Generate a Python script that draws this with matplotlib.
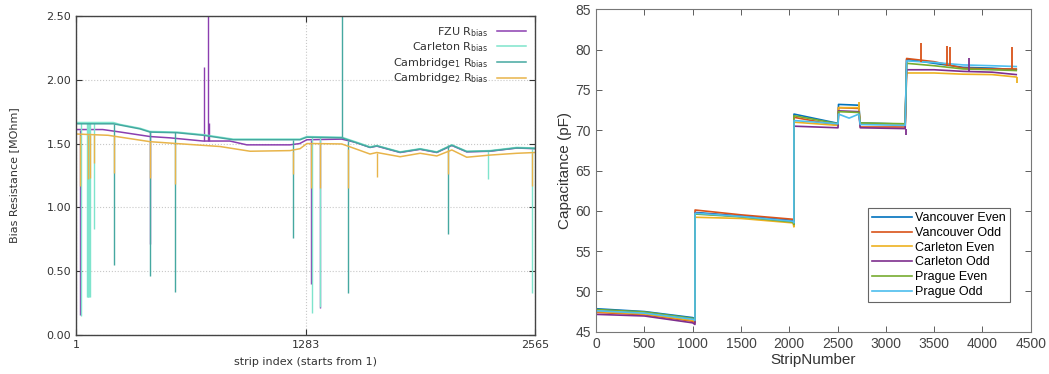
import numpy as np
import matplotlib
matplotlib.use('Agg')
import matplotlib.pyplot as plt

# ---------------- left panel: bias resistance (gnuplot style) ----------------
STRIP_TICKS = [1, 1283, 2565]

FZU_X = [1, 150, 250, 415, 525, 710, 860, 955, 1195, 1250, 1290, 1485, 1560,
         1643, 1681, 1811, 1923, 2016, 2100, 2183, 2314, 2463, 2565]
FZU_Y = [1.61, 1.61, 1.59, 1.555, 1.545, 1.52, 1.52, 1.49, 1.49, 1.50, 1.53,
         1.535, 1.51, 1.47, 1.48, 1.43, 1.455, 1.43, 1.485, 1.435, 1.44, 1.465, 1.46]

CARL_X = [1, 209, 247, 358, 414, 565, 711, 878, 973, 1252, 1290, 1485, 1560,
          1643, 1681, 1811, 1923, 2016, 2100, 2183, 2314, 2463, 2565]
CARL_Y = [1.665, 1.665, 1.65, 1.62, 1.595, 1.59, 1.57, 1.535, 1.535, 1.535, 1.555,
          1.55, 1.515, 1.475, 1.485, 1.435, 1.46, 1.435, 1.49, 1.44, 1.445, 1.47, 1.465]
CAM1_Y = [1.655, 1.655, 1.645, 1.615, 1.59, 1.585, 1.565, 1.53, 1.53, 1.53, 1.55,
          1.545, 1.51, 1.47, 1.482, 1.432, 1.457, 1.432, 1.487, 1.437, 1.442, 1.466, 1.462]

CAM2_X = [1, 180, 250, 414, 565, 805, 973, 1196, 1252, 1290, 1330, 1485, 1560,
          1643, 1681, 1811, 1923, 2016, 2100, 2183, 2314, 2463, 2565]
CAM2_Y = [1.575, 1.565, 1.55, 1.515, 1.50, 1.477, 1.44, 1.445, 1.46, 1.50, 1.50,
          1.497, 1.46, 1.418, 1.43, 1.397, 1.424, 1.403, 1.45, 1.393, 1.41, 1.424, 1.43]

# spikes: strip, low end, high end
FZU_SPK_X = [24, 413, 715, 738, 741, 1316, 1361]
FZU_SPK_LO = [0.16, 0.71, 1.52, 1.52, 1.52, 0.40, 0.21]
FZU_SPK_HI = [1.61, 1.59, 2.10, 2.60, 1.66, 1.53, 1.53]

CARL_SPK_X = [30, 62, 66, 70, 74, 77, 101, 1318, 1361, 2301, 2548]
CARL_SPK_LO = [0.15, 0.30, 0.30, 0.30, 0.30, 0.30, 0.83, 0.17, 0.22, 1.22, 0.33]
CARL_SPK_HI = [1.665, 1.665, 1.665, 1.665, 1.665, 1.665, 1.665, 1.555, 1.555, 1.445, 1.465]

CAM1_SPK_X = [215, 413, 555, 1215, 1484, 1522, 2079]
CAM1_SPK_LO = [0.55, 0.46, 0.34, 0.76, 1.55, 0.33, 0.79]
CAM1_SPK_HI = [1.65, 1.595, 1.59, 1.53, 2.60, 1.52, 1.49]

CAM2_SPK_X = [24, 70, 77, 101, 215, 413, 555, 1215, 1316, 1361, 1522, 1684, 2079, 2548]
CAM2_SPK_LO = [1.17, 1.22, 1.23, 1.35, 1.27, 1.23, 1.18, 1.26, 1.15, 1.15, 1.15, 1.24, 1.26, 1.17]
CAM2_SPK_HI = [1.57, 1.57, 1.57, 1.57, 1.56, 1.515, 1.50, 1.445, 1.50, 1.50, 1.46, 1.43, 1.45, 1.43]

# ---------------- right panel: capacitance (MATLAB style) ----------------
CAP_X = [0, 500, 1000, 1024, 1025, 1500, 2040, 2048, 2049, 2505, 2510, 2620, 2720,
         2735, 3200, 3215, 3500, 3800, 4100, 4350]
VAN_EVEN = [47.85, 47.5, 46.75, 46.6, 59.8, 59.35, 58.8, 58.6, 72.0, 70.85, 73.2, 73.15, 73.1,
            70.9, 70.75, 78.8, 78.3, 77.8, 77.7, 77.5]
VAN_ODD = [47.4, 47.1, 46.3, 46.1, 60.1, 59.5, 58.95, 58.9, 71.6, 70.6, 72.8, 72.75, 72.7,
           70.4, 70.4, 78.9, 78.5, 77.7, 77.6, 77.6]
CARL_EVEN = [47.5, 47.2, 46.4, 46.3, 59.2, 59.05, 58.5, 58.0, 71.0, 70.6, 72.8, 72.8, 72.8,
             70.8, 70.7, 77.1, 77.1, 76.95, 76.9, 76.6]
CARL_ODD = [47.15, 46.95, 46.1, 45.9, 59.7, 59.3, 58.7, 58.4, 70.5, 70.3, 72.4, 72.35, 72.3,
            70.3, 70.2, 77.5, 77.5, 77.3, 77.2, 76.9]
PRAG_EVEN = [47.75, 47.45, 46.65, 46.5, 59.6, 59.25, 58.6, 58.3, 71.8, 70.8, 72.3, 72.25, 72.2,
             70.9, 70.8, 78.3, 78.0, 77.6, 77.5, 77.4]
PRAG_ODD = [47.6, 47.3, 46.55, 46.4, 59.7, 59.3, 58.7, 58.5, 71.2, 70.8, 72.0, 71.5, 72.0,
            70.7, 70.6, 78.6, 78.4, 78.1, 78.0, 77.9]

CAP_LABELS = ['Vancouver Even', 'Vancouver Odd', 'Carleton Even',
              'Carleton Odd', 'Prague Even', 'Prague Odd']
CAP_COLORS = ['#0072BD', '#D95319', '#EDB120', '#7E2F8E', '#77AC30', '#4DBEEE']

# capacitance spikes: series index, strip, from, to
CAP_SPK_SERIES = [1, 1, 1, 1, 3, 2, 2, 3]
CAP_SPK_X = [3361, 3630, 3664, 4310, 3865, 2725, 4355, 3205]
CAP_SPK_LO = [78.5, 78.0, 78.0, 77.6, 77.3, 72.8, 75.8, 69.4]
CAP_SPK_HI = [80.8, 80.4, 80.3, 80.3, 79.0, 73.5, 76.6, 70.2]

fig = plt.figure(figsize=(10.49, 3.74), dpi=100)

# ---- left ----
ax1 = fig.add_axes([0.0725, 0.1043, 0.4376, 0.853])
rb_colors = ['#8b3fb0', '#7fe4cc', '#45a8a0', '#e8b44a']
rb_labels = [r'FZU R$_{\rm bias}$', r'Carleton R$_{\rm bias}$',
             r'Cambridge$_1$ R$_{\rm bias}$', r'Cambridge$_2$ R$_{\rm bias}$']
series = [(FZU_X, FZU_Y), (CARL_X, CARL_Y), (CARL_X, CAM1_Y), (CAM2_X, CAM2_Y)]
spikes = [(FZU_SPK_X, FZU_SPK_LO, FZU_SPK_HI), (CARL_SPK_X, CARL_SPK_LO, CARL_SPK_HI),
          (CAM1_SPK_X, CAM1_SPK_LO, CAM1_SPK_HI), (CAM2_SPK_X, CAM2_SPK_LO, CAM2_SPK_HI)]
for (xs, ys), (sx, slo, shi), c, lab in zip(series, spikes, rb_colors, rb_labels):
    ax1.plot(xs, ys, color=c, lw=1.1, label=lab)
    ax1.vlines(sx, slo, shi, color=c, lw=1.0)

ax1.set_xlim(1, 2565)
ax1.set_ylim(0, 2.5)
ax1.set_xticks(STRIP_TICKS)
ax1.set_yticks(np.arange(0, 2.51, 0.5))
ax1.yaxis.set_major_formatter(matplotlib.ticker.FormatStrFormatter('%.2f'))
ax1.tick_params(direction='in', top=True, right=True, labelsize=8, colors='#333333',
                length=4, width=0.8)
ax1.grid(True, color='#c8c8c8', ls=':', lw=0.8)
for s in ax1.spines.values():
    s.set_color('#444444')
    s.set_linewidth(1.0)
ax1.set_xlabel('strip index (starts from 1)', fontsize=8, color='#333333', labelpad=5)
ax1.set_ylabel('Bias Resistance [MOhm]', fontsize=8, color='#333333', labelpad=20)
leg1 = ax1.legend(loc='upper right', frameon=False, markerfirst=False, fontsize=8,
                  handlelength=2.6, labelspacing=0.15, borderaxespad=0.4)
for t in leg1.get_texts():
    t.set_color('#333333')

# ---- right ----
ax2 = fig.add_axes([0.5682, 0.1131, 0.4144, 0.862])
cap_series = [VAN_EVEN, VAN_ODD, CARL_EVEN, CARL_ODD, PRAG_EVEN, PRAG_ODD]
for ys, c, lab in zip(cap_series, CAP_COLORS, CAP_LABELS):
    ax2.plot(CAP_X, ys, color=c, lw=1.2, label=lab)
for i, x, lo, hi in zip(CAP_SPK_SERIES, CAP_SPK_X, CAP_SPK_LO, CAP_SPK_HI):
    ax2.vlines(x, lo, hi, color=CAP_COLORS[i], lw=1.3)

ax2.set_xlim(0, 4500)
ax2.set_ylim(45, 85)
ax2.set_xticks(np.arange(0, 4501, 500))
ax2.set_yticks(np.arange(45, 86, 5))
ax2.tick_params(direction='in', top=True, right=True, labelsize=10, colors='#444444',
                length=4, width=0.6)
for s in ax2.spines.values():
    s.set_color('#777777')
    s.set_linewidth(0.8)
for t in ax2.get_xticklabels() + ax2.get_yticklabels():
    t.set_family('Liberation Sans')
ax2.set_xlabel('StripNumber', fontsize=11, family='Liberation Sans', color='#333333', labelpad=2)
ax2.set_ylabel('Capacitance (pF)', fontsize=11, family='Liberation Sans', color='#333333', labelpad=3)
leg2 = ax2.legend(loc='lower right', bbox_to_anchor=(0.952, 0.093), fancybox=False,
                  edgecolor='#666666', framealpha=1, prop={'family': 'Liberation Sans', 'size': 9},
                  handlelength=3.2, labelspacing=0.22, borderpad=0.3, handletextpad=0.3,
                  borderaxespad=0)
leg2.get_frame().set_linewidth(0.8)

fig.savefig('out.png', dpi=100)
